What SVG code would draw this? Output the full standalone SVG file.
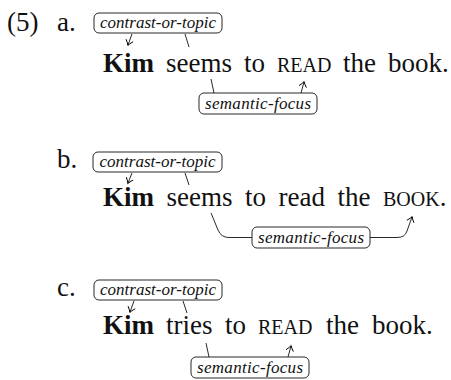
<svg xmlns="http://www.w3.org/2000/svg" width="451" height="380" viewBox="0 0 451 380">
<defs>
<marker id="ah" viewBox="-6 -5 8 10" markerWidth="8" markerHeight="10" refX="0" refY="0" orient="auto" markerUnits="userSpaceOnUse">
<path d="M-4.5,-3.5 Q-1.5,-0.8 0.5,0 Q-1.5,0.8 -4.5,3.5" fill="none" stroke="#000" stroke-width="0.9" stroke-linecap="round"/>
</marker>
<style>
.main{font-family:"Liberation Serif","Times New Roman",serif;font-size:27px;fill:#111}
.b{font-weight:bold}
.sc{font-size:20px}
.lab{font-family:"Liberation Serif","Times New Roman",serif;font-size:17px;font-style:italic;fill:#111;text-anchor:middle}
.box{fill:#fff;stroke:#111;stroke-width:0.9}
.ln{fill:none;stroke:#111;stroke-width:0.9}
.ar{fill:none;stroke:#111;stroke-width:0.9;marker-end:url(#ah)}
</style>
</defs>
<rect width="451" height="380" fill="#fff"/>

<text class="main" x="7" y="31">(5)</text>

<g id="ex-a">
<text class="main" x="57" y="31">a.</text>
<text class="main" y="72"><tspan x="103" class="b">Kim</tspan> <tspan x="166">seems</tspan> <tspan x="244">to</tspan> <tspan x="277" class="sc">READ</tspan> <tspan x="343">the</tspan> <tspan x="388">book.</tspan></text>
</g>
<g id="a-contrast">
<rect class="box" x="94" y="13" width="128" height="20" rx="5"/>
<text class="lab" x="158" y="28" textLength="116">contrast-or-topic</text>
</g>
<g id="a-focus">
<rect class="box" x="199" y="93" width="118" height="21" rx="5"/>
<text class="lab" x="258" y="108.5" textLength="106">semantic-focus</text>
</g>

<g id="ex-b">
<text class="main" x="57" y="168">b.</text>
<text class="main" y="206"><tspan x="103" class="b">Kim</tspan> <tspan x="166.5">seems</tspan> <tspan x="245">to</tspan> <tspan x="278.5">read</tspan> <tspan x="337.5">the</tspan> <tspan x="383" class="sc">BOOK</tspan><tspan>.</tspan></text>
</g>
<g id="b-contrast">
<rect class="box" x="93" y="152" width="129" height="20" rx="5"/>
<text class="lab" x="157.5" y="167" textLength="116">contrast-or-topic</text>
</g>
<g id="b-focus">
<rect class="box" x="252" y="227" width="118" height="21" rx="5"/>
<text class="lab" x="311" y="242.5" textLength="106">semantic-focus</text>
</g>

<g id="ex-c">
<text class="main" x="57" y="296">c.</text>
<text class="main" y="334"><tspan x="103" class="b">Kim</tspan> <tspan x="166">tries</tspan> <tspan x="225">to</tspan> <tspan x="258" class="sc">READ</tspan> <tspan x="326">the</tspan> <tspan x="372">book.</tspan></text>
</g>
<g id="c-contrast">
<rect class="box" x="94" y="280" width="128" height="20" rx="5"/>
<text class="lab" x="158" y="295" textLength="116">contrast-or-topic</text>
</g>
<g id="c-focus">
<rect class="box" x="191" y="357" width="118" height="21" rx="5"/>
<text class="lab" x="250" y="372.5" textLength="106">semantic-focus</text>
</g>

<g id="connectors">
<path class="ar" d="M132,34 L128,45"/>
<path class="ln" d="M185,34 L189,47"/>
<path class="ln" d="M211,79 L214,93"/>
<path class="ar" d="M301,93 L304,82"/>

<path class="ar" d="M132,173 L128,183"/>
<path class="ln" d="M185,173 L189,185"/>
<path class="ln" d="M211,213 L218,230 Q221,237.5 229,237.5 L252,237.5"/>
<path class="ar" d="M370,237.5 L397,237.5 Q405,237.5 407,231 L412,217"/>

<path class="ar" d="M134,301 L130,312"/>
<path class="ln" d="M183,301 L187,313"/>
<path class="ln" d="M206,343 L209,357"/>
<path class="ar" d="M288,357 L291,346"/>
</g>
</svg>
